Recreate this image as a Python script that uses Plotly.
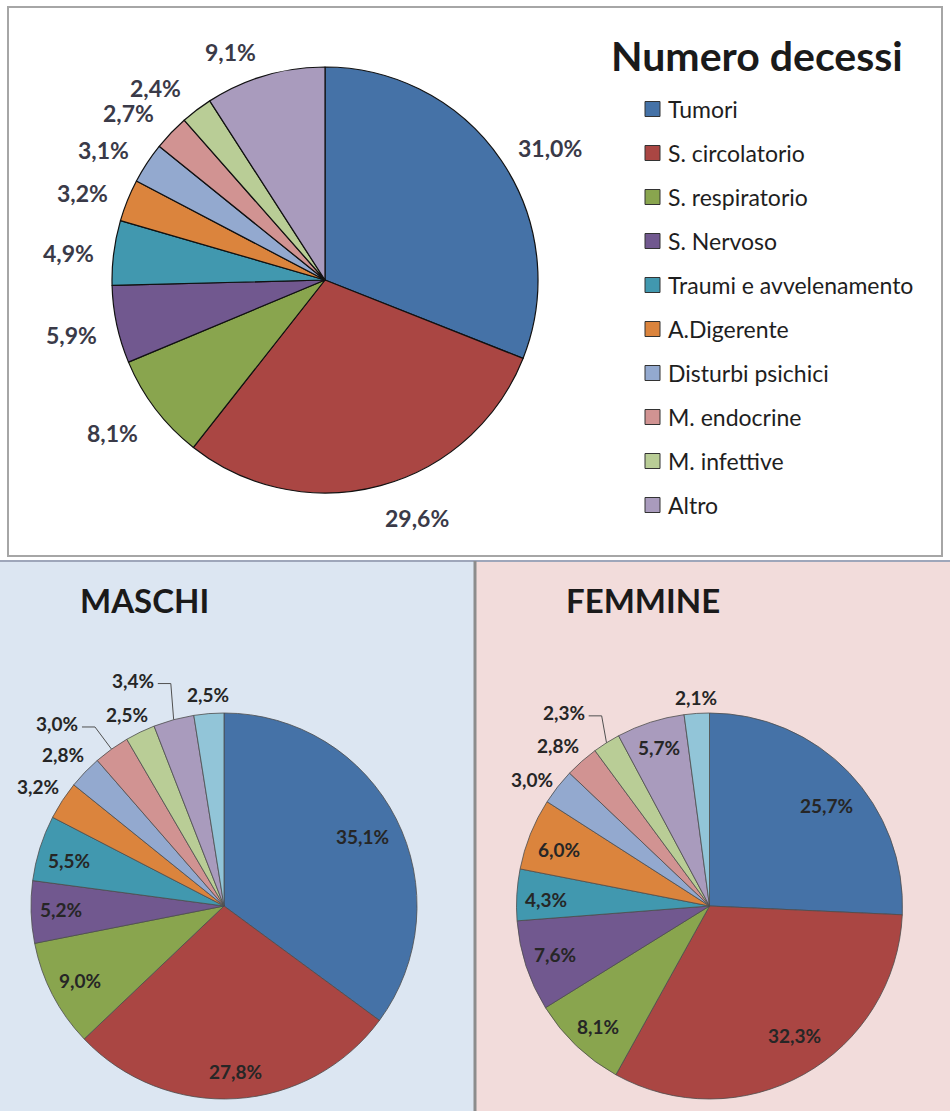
import math
import plotly.graph_objects as go

W, H = 950, 1111

# Cause di morte (quote percentuali)
categorie = ["Tumori", "S. circolatorio", "S. respiratorio", "S. Nervoso",
             "Traumi e avvelenamento", "A.Digerente", "Disturbi psichici",
             "M. endocrine", "M. infettive", "Altro"]
categorie_sesso = categorie + ["Altre cause"]

totale = [31.0, 29.6, 8.1, 5.9, 4.9, 3.2, 3.1, 2.7, 2.4, 9.1]
maschi = [35.1, 27.8, 9.0, 5.2, 5.5, 3.2, 2.8, 3.0, 2.5, 3.4, 2.5]
femmine = [25.7, 32.3, 8.1, 7.6, 4.3, 6.0, 3.0, 2.8, 2.3, 5.7, 2.1]

colori = ["#4572A7", "#AA4643", "#89A54E", "#71588F", "#4198AF", "#DB843D",
          "#93A9CF", "#D19392", "#B9CD96", "#A99BBD", "#92C5D8"]

FONT = "Lato"


def fx(x):
    return x / W


def fy(y):
    return 1 - y / H


def dominio(cx, cy, r):
    return dict(x=[fx(cx - r), fx(cx + r)], y=[fy(cy + r), fy(cy - r)])


def angoli_medi(vals):
    tot = sum(vals)
    acc = 0.0
    out = []
    for v in vals:
        out.append((acc + v / 2) / tot * 360.0)
        acc += v
    return out


def etichetta(v):
    return f"{v:.1f}%".replace(".", ",")


# geometria delle torte (centro x, centro y, raggio in pixel)
torta_tot = (325, 280, 213)
torta_m = (224, 906, 193)
torta_f = (709.5, 906, 193)

# posizione etichette: (fattore radiale, correzione angolare in gradi, linea guida)
pos_tot = [(1.225, 3.8, False), (1.197, -6.0, False), (1.23, 1.6, False),
           (1.216, -0.2, False), (1.211, -1.4, False), (1.211, -2.3, False),
           (1.207, -2.9, False), (1.211, -3.4, False), (1.202, -4.4, False),
           (1.16, -6.2, False)]
pos_m = [(0.80, 0.2, False), (0.86, -0.2, False), (0.84, 0.2, False),
         (0.845, 0.4, False), (0.84, -1.0, False), (1.145, -0.5, False),
         (1.145, -0.7, False), (1.28, -6.9, True), (1.114, -1.1, False),
         (1.26, -6.9, True), (1.10, 0.2, False)]
pos_f = [(0.80, 3.2, False), (0.80, -4.1, False), (0.85, -0.9, False),
         (0.84, 0.7, False), (0.85, -1.0, False), (0.834, -1.3, False),
         (1.13, -2.5, False), (1.14, -1.9, False), (1.254, -4.8, True),
         (0.86, 0.3, False), (1.083, 0.2, False)]

fig = go.Figure()


def aggiungi_torta(vals, nomi, geom, linea, larghezza):
    cx, cy, r = geom
    fig.add_trace(go.Pie(
        values=vals, labels=nomi[:len(vals)], sort=False, direction="clockwise",
        rotation=0, textinfo="none", hoverinfo="label+percent",
        marker=dict(colors=colori[:len(vals)], line=dict(color=linea, width=larghezza)),
        domain=dominio(cx, cy, r), showlegend=False,
    ))


aggiungi_torta(totale, categorie, torta_tot, "#111111", 1.2)
aggiungi_torta(maschi, categorie_sesso, torta_m, "#4d4d4d", 0.8)
aggiungi_torta(femmine, categorie_sesso, torta_f, "#4d4d4d", 0.8)

annotazioni = []
forme = []


def etichette(vals, geom, posizioni, size, colore):
    cx, cy, r = geom
    for v, a, (k, da, guida) in zip(vals, angoli_medi(vals), posizioni):
        t = math.radians(a + da)
        lx = cx + k * r * math.sin(t)
        ly = cy - k * r * math.cos(t)
        annotazioni.append(dict(
            x=fx(lx), y=fy(ly), xref="paper", yref="paper", showarrow=False,
            text=f"<b>{etichetta(v)}</b>", xanchor="center", yanchor="middle",
            font=dict(family=FONT, size=size, color=colore)))
        if guida:
            tm = math.radians(a)
            ex = cx + r * math.sin(tm)
            ey = cy - r * math.cos(tm)
            destra = lx + 23
            forme.append(dict(
                type="path", xref="paper", yref="paper", layer="above",
                path=(f"M {fx(ex)},{fy(ey)} L {fx(destra + 15)},{fy(ly + 3)} "
                      f"L {fx(destra + 2)},{fy(ly + 3)}"),
                line=dict(color="#505050", width=1)))


etichette(totale, torta_tot, pos_tot, 23, "#3a3a48")
etichette(maschi, torta_m, pos_m, 19, "#262626")
etichette(femmine, torta_f, pos_f, 19, "#262626")

# riquadri di sfondo
forme_sotto = [
    dict(type="rect", xref="paper", yref="paper", layer="below",
         x0=fx(8), x1=fx(942), y0=fy(556), y1=fy(7),
         fillcolor="white", line=dict(color="#a6a6a6", width=2)),
    dict(type="rect", xref="paper", yref="paper", layer="below",
         x0=fx(0), x1=fx(475), y0=fy(1111), y1=fy(561),
         fillcolor="#DCE6F2", line=dict(width=0)),
    dict(type="rect", xref="paper", yref="paper", layer="below",
         x0=fx(475), x1=fx(950), y0=fy(1111), y1=fy(561),
         fillcolor="#F2DCDB", line=dict(width=0)),
    dict(type="line", xref="paper", yref="paper", layer="below",
         x0=0, x1=1, y0=fy(561), y1=fy(561),
         line=dict(color="#9ea6ba", width=2)),
    dict(type="line", xref="paper", yref="paper", layer="below",
         x0=fx(475), x1=fx(475), y0=fy(1111), y1=fy(561),
         line=dict(color="#8c8c8c", width=3)),
]

# legenda della torta complessiva
for i, (nome, col) in enumerate(zip(categorie, colori)):
    yc = 109 + 44 * i
    forme.append(dict(type="rect", xref="paper", yref="paper",
                      x0=fx(645), x1=fx(660), y0=fy(yc + 7.5), y1=fy(yc - 7.5),
                      fillcolor=col, line=dict(color="#333333", width=1)))
    annotazioni.append(dict(
        x=fx(666), y=fy(yc), xref="paper", yref="paper", showarrow=False,
        text=nome, xanchor="left", yanchor="middle",
        font=dict(family=FONT, size=23, color="#1e1e1e")))

# titoli
annotazioni.append(dict(x=fx(757), y=fy(55), xref="paper", yref="paper",
                        showarrow=False, text="<b>Numero decessi</b>",
                        xanchor="center", yanchor="middle",
                        font=dict(family=FONT, size=41, color="#1a1a1a")))
annotazioni.append(dict(x=fx(144), y=fy(600), xref="paper", yref="paper",
                        showarrow=False, text="<b>MASCHI</b>",
                        xanchor="center", yanchor="middle",
                        font=dict(family=FONT, size=33, color="#1a1a1a")))
annotazioni.append(dict(x=fx(643), y=fy(600), xref="paper", yref="paper",
                        showarrow=False, text="<b>FEMMINE</b>",
                        xanchor="center", yanchor="middle",
                        font=dict(family=FONT, size=33, color="#1a1a1a")))

fig.update_layout(
    width=W, height=H, margin=dict(l=0, r=0, t=0, b=0),
    paper_bgcolor="white", showlegend=False,
    annotations=annotazioni, shapes=forme_sotto + forme,
)

fig.write_html("out.html")
